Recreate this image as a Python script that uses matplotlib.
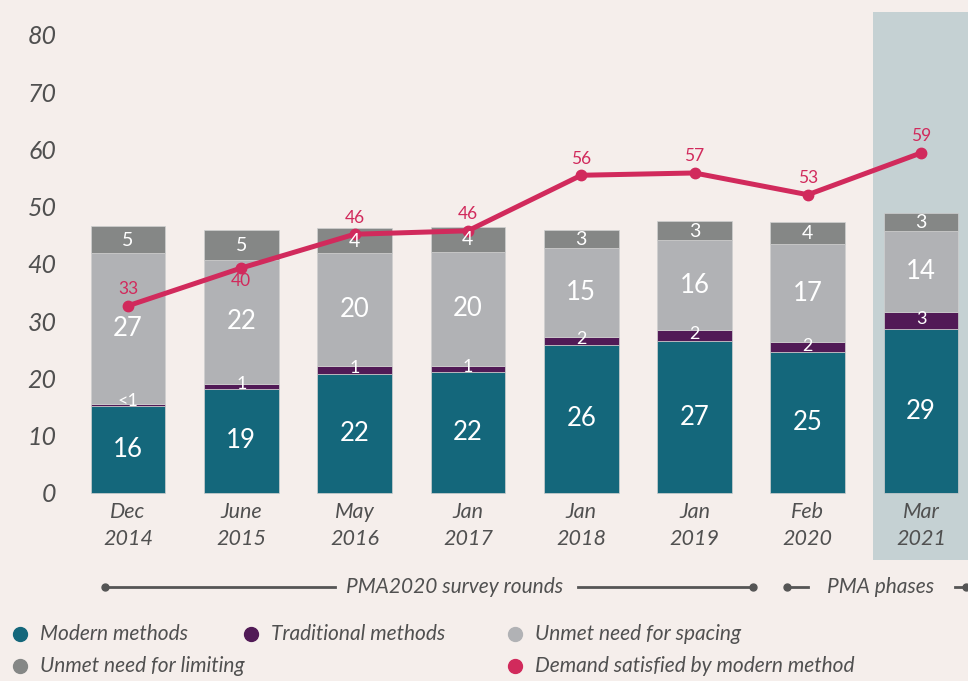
import matplotlib
matplotlib.use("Agg")
import matplotlib.pyplot as plt
from matplotlib.lines import Line2D
import numpy as np

categories = ["Dec\n2014", "June\n2015", "May\n2016", "Jan\n2017", "Jan\n2018", "Jan\n2019", "Feb\n2020", "Mar\n2021"]
modern = [15.2, 18.2, 20.8, 21.1, 25.9, 26.5, 24.6, 28.6]
traditional = [0.3, 0.9, 1.4, 1.1, 1.4, 1.9, 1.7, 3.0]
unmet_spacing = [26.4, 21.6, 19.7, 19.9, 15.5, 15.8, 17.2, 14.2]
unmet_limiting = [4.7, 5.2, 4.4, 4.4, 3.1, 3.3, 3.8, 3.1]
demand = [32.7, 39.3, 45.2, 45.8, 55.5, 55.9, 52.1, 59.4]

modern_lbl = ["16", "19", "22", "22", "26", "27", "25", "29"]
trad_lbl = ["<1", "1", "1", "1", "2", "2", "2", "3"]
spacing_lbl = ["27", "22", "20", "20", "15", "16", "17", "14"]
limiting_lbl = ["5", "5", "4", "4", "3", "3", "4", "3"]
demand_lbl = ["33", "40", "46", "46", "56", "57", "53", "59"]
yticks = [0, 10, 20, 30, 40, 50, 60, 70, 80]

BG = "#F5EEEB"
C_MOD = "#14677B"
C_TRAD = "#511A56"
C_SPACE = "#B1B2B5"
C_LIMIT = "#858786"
C_LINE = "#D12A5C"
C_TXT = "#505050"
C_HL = "#C5D1D3"

W, H = 968, 681
fig = plt.figure(figsize=(W / 100, H / 100), dpi=100, facecolor=BG)

left, right, top, bottom = 72, 968, 12, 560
ax = fig.add_axes([left / W, 1 - bottom / H, (right - left) / W, (bottom - top) / H])
ax.set_facecolor(BG)
x = np.arange(len(categories))
sp = 113.3
ax.set_xlim((left - 128) / sp, (right - 128) / sp)
ppu = (493 - 35) / 80
ax.set_ylim(-(bottom - 493) / ppu, (493 - top) / ppu)
for s in ax.spines.values():
    s.set_visible(False)
ax.tick_params(length=0)

ax.axvspan(x[-1] - 0.425, ax.get_xlim()[1] + 1, color=C_HL, zorder=0, lw=0)

bw = 0.66
b0 = np.zeros(len(x))
stack = [(modern, C_MOD), (traditional, C_TRAD), (unmet_spacing, C_SPACE), (unmet_limiting, C_LIMIT)]
bottoms = []
for vals, col in stack:
    ax.bar(x, vals, bw, bottom=b0, color=col, edgecolor="#D0D0D0", linewidth=0.5, zorder=2)
    bottoms.append(b0.copy())
    b0 = b0 + np.array(vals)

numfont = dict(family="Lato", color="white", ha="center", va="center", zorder=5)
for i in range(len(x)):
    m0 = bottoms[0][i]; t0 = bottoms[1][i]; s0 = bottoms[2][i]; l0 = bottoms[3][i]
    ax.text(x[i], m0 + modern[i] / 2, modern_lbl[i], fontsize=18.5, **numfont)
    ax.text(x[i], t0 + max(traditional[i], 1.2) / 2 + 0.3, trad_lbl[i], fontsize=13, **numfont)
    ax.text(x[i], s0 + unmet_spacing[i] / 2, spacing_lbl[i], fontsize=18.5, **numfont)
    ax.text(x[i], l0 + unmet_limiting[i] / 2 - 0.1, limiting_lbl[i], fontsize=14, **numfont)

ax.plot(x, demand, color=C_LINE, lw=3.6, marker="o", ms=7.5, zorder=4, solid_capstyle="round")
for i in range(len(x)):
    off = -2.2 if i == 1 else 2.9
    ax.text(x[i], demand[i] + off, demand_lbl[i], color=C_LINE, fontsize=12.5, family="Lato",
            ha="center", va="center", zorder=6)

ax.set_yticks(yticks)
ax.set_yticklabels([str(t) for t in yticks], fontsize=18, style="italic", family="Lato", color=C_TXT)
ax.tick_params(axis="y", pad=11)
ax.set_xticks([])
for i in range(len(x)):
    ax.text(x[i], -1.55, categories[i], fontsize=15.5, style="italic", family="Lato", color=C_TXT,
            ha="center", va="top", linespacing=1.45, zorder=6)

def fx(px):
    return px / W
def fy(py):
    return 1 - py / H
yl = 587
lc = "#555555"
fig.add_artist(Line2D([fx(105), fx(335)], [fy(yl), fy(yl)], color=lc, lw=2))
fig.add_artist(Line2D([fx(105)], [fy(yl)], color=lc, marker="o", ms=5))
fig.add_artist(Line2D([fx(578), fx(753)], [fy(yl), fy(yl)], color=lc, lw=2))
fig.add_artist(Line2D([fx(753)], [fy(yl)], color=lc, marker="o", ms=5))
fig.text(fx(455), fy(yl), "PMA2020 survey rounds", fontsize=15, style="italic", family="Lato",
         color=C_TXT, ha="center", va="center")
fig.add_artist(Line2D([fx(787), fx(808)], [fy(yl), fy(yl)], color=lc, lw=2))
fig.add_artist(Line2D([fx(787)], [fy(yl)], color=lc, marker="o", ms=5))
fig.text(fx(881), fy(yl), "PMA phases", fontsize=15, style="italic", family="Lato",
         color=C_TXT, ha="center", va="center")
fig.add_artist(Line2D([fx(955), fx(975)], [fy(yl), fy(yl)], color=lc, lw=2))
fig.add_artist(Line2D([fx(966)], [fy(yl)], color=lc, marker="o", ms=5))

legend_items = [
    ("Modern methods", C_MOD, 20, 634),
    ("Traditional methods", C_TRAD, 251, 634),
    ("Unmet need for spacing", C_SPACE, 515, 634),
    ("Unmet need for limiting", C_LIMIT, 20, 666),
    ("Demand satisfied by modern method", C_LINE, 515, 666),
]
for lab, col, px, py in legend_items:
    fig.add_artist(Line2D([fx(px)], [fy(py)], color=col, marker="o", ms=10, lw=0))
    fig.text(fx(px + 20), fy(py), lab, fontsize=15, style="italic", family="Lato",
             color=C_TXT, ha="left", va="center")

fig.savefig("out.png", dpi=100, facecolor=BG)
